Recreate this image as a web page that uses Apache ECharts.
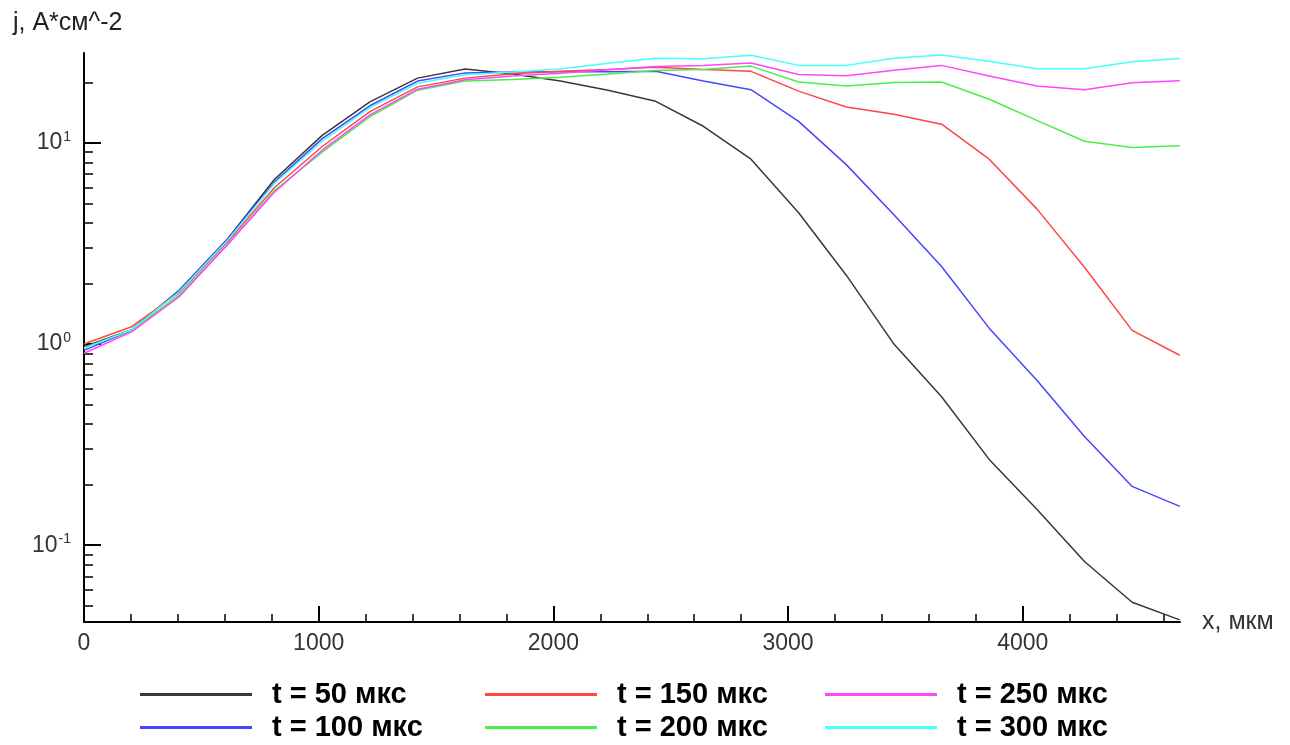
<!DOCTYPE html>
<html>
<head>
<meta charset="utf-8">
<script src="https://cdn.jsdelivr.net/npm/echarts@6/dist/echarts.min.js"></script>
<style>html,body{margin:0;padding:0;background:#fff}#c{width:1290px;height:745px}</style>
</head>
<body>
<div id="c"></div>
<script>
// x positions, мкм
const xValues = [0,203,406,609,812,1015,1218,1421,1624,1827,2030,2233,2436,2639,2842,3045,3248,3451,3654,3857,4060,4263,4466,4669];
const names = ['t = 50 мкс','t = 100 мкс','t = 150 мкс','t = 200 мкс','t = 250 мкс','t = 300 мкс'];
const t50  = [0.97,1.18,1.85,3.3,6.6,10.9,16.0,21.0,23.3,22.0,20.3,18.3,16.1,12.1,8.3,4.5,2.2,1.0,0.547,0.267,0.151,0.083,0.052,0.0425];
const t100 = [0.93,1.17,1.85,3.3,6.4,10.5,15.3,20.3,22.3,22.5,22.6,22.6,22.7,20.3,18.4,12.8,7.8,4.4,2.43,1.2,0.66,0.347,0.196,0.156];
const t150 = [1.0,1.22,1.8,3.2,6.0,9.6,14.3,19.0,21.0,22.1,22.7,23.2,23.8,23.2,22.7,18.1,15.1,13.9,12.4,8.3,4.7,2.41,1.17,0.88];
const t200 = [0.96,1.17,1.75,3.1,5.8,9.0,13.5,18.3,20.3,20.7,21.2,22.0,22.9,23.2,24.1,20.1,19.2,20.0,20.1,16.5,12.95,10.2,9.48,9.67];
const t250 = [0.9,1.15,1.72,3.1,5.7,9.2,13.8,18.5,20.6,21.5,22.2,23.1,24.0,24.3,25.0,21.9,21.6,23.0,24.3,21.5,19.2,18.4,19.9,20.4];
const t300 = [0.95,1.18,1.82,3.25,6.3,10.2,15.0,19.8,21.8,22.5,23.3,24.9,26.4,26.2,27.3,24.3,24.3,26.4,27.4,25.5,23.4,23.4,25.3,26.3];
const colors = ['#383838','#4646ff','#ff4646','#46f046','#ff46ff','#46ffff'];
const xMajor = [0,1000,2000,3000,4000];
const xMinor = [200,400,600,800,1200,1400,1600,1800,2200,2400,2600,2800,3200,3400,3600,3800,4200,4400,4600];
const yMajor = [0.1,1,10];
const yMinor = [0.05,0.06,0.07,0.08,0.09,0.2,0.3,0.4,0.5,0.6,0.7,0.8,0.9,2,3,4,5,6,7,8,9,20];

const allSeries = [t50,t100,t150,t200,t250,t300];
const chart = echarts.init(document.getElementById('c'));
const tickFont = 'Liberation Sans';
const legendLeft = [140,140,485,485,825,825];
const legendTop = [680,713,680,713,680,713];
chart.setOption({
  animation: false,
  backgroundColor: '#fff',
  title: {
    text: 'j, A*см^-2', left: 8, top: 6,
    textStyle: {fontFamily: 'Liberation Sans', fontSize: 25, fontWeight: 'normal', color: '#222'}
  },
  grid: {left: 84, right: 110, top: 53, bottom: 123},
  legend: names.map((n, k) => ({
    left: legendLeft[k],
    top: legendTop[k],
    data: [n],
    icon: 'rect',
    itemWidth: 112, itemHeight: 3,
    selectedMode: false,
    padding: 0,
    textStyle: {fontFamily: 'Liberation Sans', fontWeight: 'bold', fontSize: 29, color: '#000', padding: [0,0,0,15]}
  })),
  xAxis: [{
    type: 'value', min: 0, max: 4670,
    name: 'x, мкм', nameLocation: 'end', nameGap: 22,
    nameTextStyle: {fontFamily: 'Liberation Sans', fontSize: 25, color: '#333', verticalAlign: 'middle'},
    axisLine: {lineStyle: {color: '#000', width: 2}},
    axisTick: {inside: true, length: 16, customValues: xMajor, lineStyle: {color: '#000', width: 2}},
    axisLabel: {customValues: xMajor, formatter: (v) => String(v), fontFamily: tickFont, fontSize: 23, color: '#333', margin: 10},
    splitLine: {show: false}
  }, {
    type: 'value', min: 0, max: 4670, position: 'bottom',
    axisLine: {show: false},
    axisTick: {inside: true, length: 8, customValues: xMinor, lineStyle: {color: '#000', width: 1.5}},
    axisLabel: {show: false},
    splitLine: {show: false}
  }],
  yAxis: [{
    type: 'log', logBase: 10, min: 0.0415, max: 28,
    axisLine: {show: true, lineStyle: {color: '#000', width: 2}},
    axisTick: {show: true, inside: true, length: 17, customValues: yMajor, lineStyle: {color: '#000', width: 2}},
    axisLabel: {
      customValues: yMajor, margin: 13, fontFamily: tickFont, fontSize: 23, color: '#333',
      formatter: (v) => '10{sup|' + Math.round(Math.log10(v)) + '}',
      rich: {sup: {fontFamily: tickFont, fontSize: 14, color: '#333', verticalAlign: 'top', padding: [0,0,12,1]}}
    },
    splitLine: {show: false}
  }, {
    type: 'log', logBase: 10, min: 0.0415, max: 28, position: 'left',
    axisLine: {show: false},
    axisTick: {show: true, inside: true, length: 9, customValues: yMinor, lineStyle: {color: '#000', width: 1.5}},
    axisLabel: {show: false},
    splitLine: {show: false}
  }],
  series: allSeries.map((s, k) => ({
    name: names[k], type: 'line', xAxisIndex: 0, yAxisIndex: 0,
    showSymbol: false, symbol: 'none',
    color: colors[k],
    lineStyle: {width: 1.5, color: colors[k]},
    data: xValues.map((x, i) => [x, s[i]])
  }))
});
</script>
</body>
</html>
